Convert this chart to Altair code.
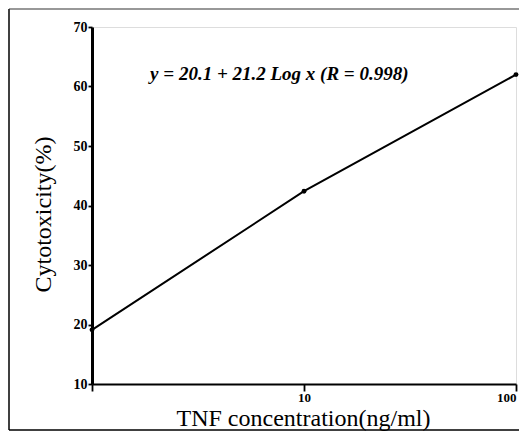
import altair as alt
import pandas as pd

concentration = [1, 10, 100]
cytotoxicity = [19.1, 42.4, 62.0]
equation = ["y = 20.1 + 21.2 Log x (R = 0.998)"]
eq_x = [1.88]
eq_y = [61.1]
x_ticks = [1, 10, 100]
y_ticks = [10, 20, 30, 40, 50, 60, 70]

df = pd.DataFrame({"conc": concentration, "cyto": cytotoxicity})
eq_df = pd.DataFrame({"x": eq_x, "y": eq_y, "t": equation})

W, H = 424, 357
SERIF = "Liberation Serif"

xs = alt.Scale(type="log", domain=[1, 100])
ys = alt.Scale(domain=[10, 70])

line = alt.Chart(df).mark_line(color="black", strokeWidth=2).encode(
    x=alt.X("conc:Q", scale=xs,
            axis=alt.Axis(values=x_ticks, labelExpr="datum.value == 1 ? '' : datum.label",
                          title="TNF concentration(ng/ml)", grid=False,
                          domainColor="black", domainWidth=2.2, tickColor="black",
                          tickWidth=1.8, tickSize=7, labelFont=SERIF, labelFontSize=13,
                          labelFontWeight="bold", labelColor="black", labelPadding=0,
                          titleFont=SERIF, titleFontSize=24, titleFontWeight="normal",
                          titleColor="black", titleX=211, titleY=41,
                          titleAlign="center", titleBaseline="alphabetic")),
    y=alt.Y("cyto:Q", scale=ys,
            axis=alt.Axis(values=y_ticks, title="Cytotoxicity(%)", grid=False,
                          domainColor="black", domainWidth=3, tickColor="black",
                          tickWidth=1.8, tickSize=4, labelFont=SERIF, labelFontSize=14,
                          labelFontWeight="bold", labelColor="black", labelPadding=1,
                          titleFont=SERIF, titleFontSize=24,
                          titleFontWeight="normal", titleColor="black",
                          titleAngle=270, titleX=-49, titleY=187,
                          titleAlign="center", titleBaseline="middle")),
)
pts = alt.Chart(df).mark_point(filled=True, color="black", size=24, opacity=1).encode(
    x=alt.X("conc:Q", scale=xs), y=alt.Y("cyto:Q", scale=ys))

eq = alt.Chart(eq_df).mark_text(font=SERIF, fontSize=19, fontWeight="bold",
                                fontStyle="italic", align="left", baseline="alphabetic",
                                color="black").encode(
    x=alt.X("x:Q", scale=xs), y=alt.Y("y:Q", scale=ys), text="t:N")

# decorative frame around the figure
frame_left = alt.Chart(eq_df).mark_rule(color="black", strokeWidth=1.5).encode(
    x=alt.value(-83), y=alt.value(-18), y2=alt.value(H + 46))
frame_top = alt.Chart(eq_df).mark_rule(color="#333333", strokeWidth=1.2).encode(
    x=alt.value(-83), x2=alt.value(W + 3), y=alt.value(-18))
frame_bottom = alt.Chart(eq_df).mark_rule(color="black", strokeWidth=1.5).encode(
    x=alt.value(-83), x2=alt.value(W + 3), y=alt.value(H + 46))

chart = alt.layer(frame_left, frame_top, frame_bottom, line, pts, eq).properties(
    width=W, height=H,
    autosize=alt.AutoSizeParams(type="none"),
    padding={"left": 84, "top": 19, "right": 3, "bottom": 47},
).configure_view(stroke=None).configure(background="white")

chart.save("out.html", embed_options={"renderer": "svg", "actions": False})
